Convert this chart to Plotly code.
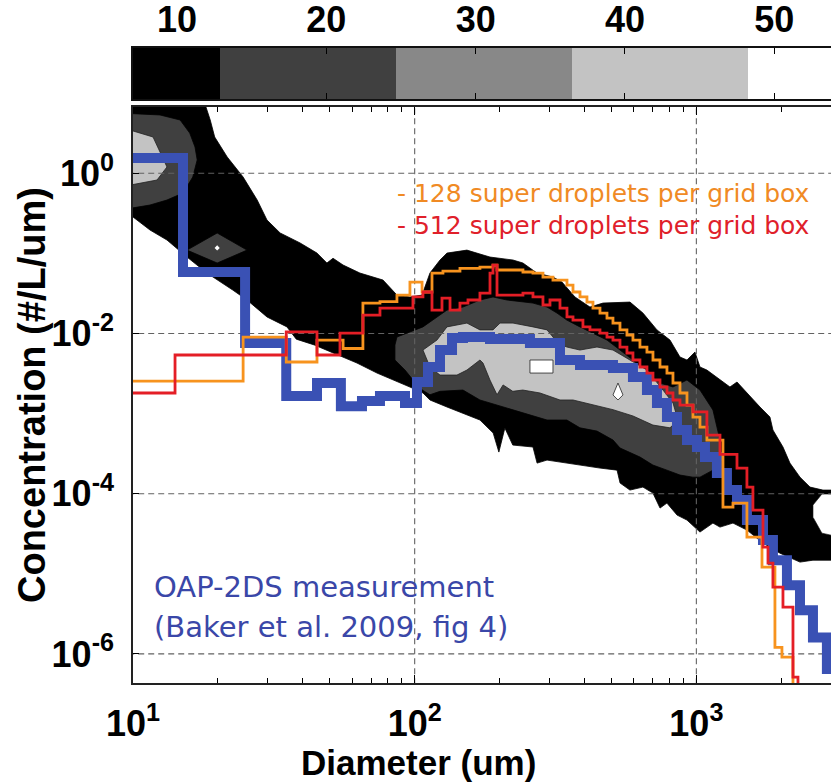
import plotly.graph_objects as go

# ---------------- data ----------------
# colour-bar bands (contour levels) and their tick labels
cbar_edges = [1.09, 12.88, 24.67, 36.46, 48.25, 60.04]
cbar_codes = [0, 1, 2, 3, 4]
cbar_ticks = [10, 20, 30, 40, 50]
band_colors = ["#000000", "#404040", "#888888", "#c3c3c3", "#ffffff"]

# OAP-2DS measurement (bin left edge in um, concentration #/L/um)
blue_d = [9, 15.05, 25.0, 35.0, 45.0, 54.7, 65.0, 75.3, 92.4, 101.9, 111.5, 123.0, 135.7,
          148.4, 185.1, 256.6, 328.0, 386.3, 505.8, 595.5, 667.7, 724.7, 786.4, 853.5,
          926.2, 1005, 1073, 1183, 1284, 1394, 1512, 1724, 1870, 2097, 2333, 2594, 2907, 3300]
blue_c = [1.55, 0.0586, 0.0076, 0.00166, 0.00241, 0.00124, 0.00144, 0.00166, 0.00136,
          0.00248, 0.00382, 0.00622, 0.00879, 0.00904, 0.00853, 0.0076, 0.00467, 0.00404,
          0.00371, 0.00286, 0.00197, 0.00136, 0.000906, 0.000624, 0.000468, 0.000383,
          0.000287, 0.000181, 0.000111, 8.34e-5, 4.69e-5, 2.64e-5, 1.48e-5, 7.22e-6,
          3.52e-6, 1.6e-6, 6.5e-7, 6.5e-7]

# 128 super droplets per grid box
orange_d = [9, 24.6, 35.0, 45.0, 55.7, 65.5, 75.3, 86.5, 96.2, 106.2, 115.2, 126.0, 144.8,
            170.5, 189.7, 196.0, 242.3, 263.0, 285.4, 309.7, 347.3, 364.8, 386.3, 408.9,
            429.5, 454.8, 481.6, 505.8, 535.6, 567.0, 595.5, 630.6, 667.7, 701.4, 742.8,
            786.4, 826.0, 874.7, 926.2, 972.5, 1030, 1090, 1243, 1349, 1512, 1710, 1901,
            2013, 2203, 2400]
orange_c = [0.00255, 0.00904, 0.00441, 0.00829, 0.0065, 0.024, 0.025, 0.0302, 0.0439, 0.033,
            0.0569, 0.060, 0.065, 0.0676, 0.0716, 0.0621, 0.0586, 0.0569, 0.0507, 0.0465,
            0.0403, 0.033, 0.0286, 0.0247, 0.0208, 0.018, 0.0156, 0.0135, 0.0111, 0.00958,
            0.00829, 0.00678, 0.00587, 0.00467, 0.00382, 0.00321, 0.00241, 0.00181, 0.00128,
            0.000906, 0.00068, 0.000468, 6.81e-5, 7.64e-5, 2.87e-5, 1.21e-5, 1.21e-6,
            9.1e-7, 1e-9, 1e-9]

# 512 super droplets per grid box
red_d = [9, 14.1, 35.0, 45.0, 54.3, 65.5, 75.3, 98.6, 107.0, 115.2, 125.0, 133.5, 144.8,
         154.6, 170.5, 185.1, 189.7, 196.0, 242.3, 263.0, 285.4, 302.2, 328.0, 347.3, 364.8,
         395.7, 419.1, 454.8, 481.6, 505.8, 535.6, 567.0, 595.5, 630.6, 667.7, 701.4, 742.8,
         786.4, 826.0, 874.7, 972.5, 1090, 1213, 1394, 1512, 1588, 1724, 1796, 1870, 2030,
         2203, 2295, 2500]
red_c = [0.00181, 0.00539, 0.0105, 0.00539, 0.0101, 0.017, 0.0208, 0.0286, 0.033, 0.0196,
         0.0277, 0.0196, 0.024, 0.0262, 0.032, 0.0569, 0.0716, 0.0302, 0.032, 0.0286, 0.0227,
         0.0262, 0.0208, 0.0161, 0.0147, 0.0121, 0.0111, 0.0101, 0.00904, 0.00829, 0.00678,
         0.00571, 0.00467, 0.00382, 0.00321, 0.00263, 0.00215, 0.00181, 0.00148, 0.00128,
         0.00105, 0.00054, 0.00031, 0.000209, 0.000121, 6.25e-5, 2.15e-5, 1.36e-5, 6.82e-6,
         3.84e-6, 5.12e-7, 1e-9, 1e-9]

# contour regions of the simulated frequency field: (diameter um, concentration)
level1_outline = [
    (9, 10), (17.5, 10), (18.8, 4.63), (19.5, 2.84), (21.6, 1.60), (24.6, 0.899), (27.6, 0.464),
    (29.9, 0.261), (33.3, 0.180), (39.2, 0.135), (45.0, 0.101), (48.8, 0.0759), (51.3, 0.087),
    (55.7, 0.0716), (63.9, 0.0569), (77.2, 0.0465), (86.5, 0.0302), (96.2, 0.0286),
    (106.2, 0.0302), (113.3, 0.0569), (123.0, 0.0827), (130.2, 0.101), (153.3, 0.110),
    (185.1, 0.0901), (223.4, 0.0827), (242.3, 0.0759), (271.7, 0.0569), (309.7, 0.0507),
    (333.4, 0.0439), (370.7, 0.0286), (419.1, 0.0214), (466.1, 0.024), (581.2, 0.0247),
    (646.3, 0.018), (724.7, 0.0111), (806.0, 0.00829), (874.7, 0.00509), (926.2, 0.00467),
    (988.5, 0.00587), (1030, 0.00382), (1090, 0.0035), (1183, 0.00286), (1316, 0.00215),
    (1394, 0.00248), (1512, 0.00181), (1682, 0.00121), (1825, 0.000906), (1870, 0.000624),
    (2030, 0.000383), (2149, 0.000241), (2333, 0.000161), (2532, 0.000121), (2814, 0.000111),
    (3236, 0.000111), (3236, 1.48e-5), (2594, 1.48e-5), (2333, 1.40e-5), (1981, 1.81e-5),
    (1825, 2.15e-5), (1724, 2.42e-5), (1512, 3.52e-5), (1349, 4.30e-5), (1213, 3.83e-5),
    (1145, 4.30e-5), (1030, 3.32e-5), (926, 4.69e-5), (854, 5.41e-5), (786, 7.64e-5),
    (743, 6.62e-5), (701, 0.000102), (646, 0.000121), (581, 0.000111), (536, 0.000136),
    (523, 0.000197), (455, 0.000209), (386, 0.000228), (336, 0.000241), (295, 0.000263),
    (272, 0.000241), (263, 0.000383), (223, 0.000405), (209, 0.000661), (199, 0.000331),
    (190, 0.000572), (170.5, 0.000832), (148.4, 0.00102), (130.2, 0.00121), (113.3, 0.00148),
    (107, 0.00181), (101.9, 0.00197), (88.7, 0.00241), (73.5, 0.00321), (62.4, 0.00428),
    (51.3, 0.00571), (44.0, 0.0072), (38.0, 0.0085), (35.2, 0.0121), (29.9, 0.0161),
    (25.4, 0.0262), (22.6, 0.0349), (18.3, 0.0569), (15.55, 0.0901), (13.2, 0.147),
    (11.49, 0.196), (10, 0.285), (9, 0.3)]

level2_hump = [
    (85.1, 0.00718), (86.5, 0.00904), (107, 0.0121), (120, 0.0161), (130.2, 0.0196),
    (148.4, 0.0214), (170.5, 0.0262), (189.7, 0.0286), (212.7, 0.0262), (263, 0.024),
    (295, 0.0214), (320, 0.018), (347, 0.0147), (386, 0.0121), (429.5, 0.0101), (481.6, 0.00829),
    (535.6, 0.00622), (595.5, 0.00467), (667.7, 0.00321), (742.8, 0.00241), (826, 0.00215),
    (926, 0.00263), (1030, 0.00197), (1145, 0.00111), (1213, 0.000468), (1243, 0.000263),
    (1145, 0.000197), (1030, 0.000161), (972, 0.000161), (875, 0.000171), (786, 0.000197),
    (701, 0.000228), (631, 0.000287), (536, 0.000372), (506, 0.000468), (444, 0.000605),
    (386, 0.000665), (347, 0.000832), (295, 0.000832), (263, 0.000935), (223, 0.00112),
    (196, 0.00128), (170.5, 0.00148), (148.4, 0.00197), (123, 0.0019), (113.3, 0.00172),
    (104.4, 0.00206), (92.4, 0.0035), (85.1, 0.00467)]
level2_topleft = [(9, 5.66), (12.47, 5.35), (14.7, 4.63), (15.9, 3.18), (16.6, 2.13), (16.9, 1.47),
                  (16.3, 0.899), (15.05, 0.567), (13.2, 0.464), (11.49, 0.402), (9, 0.348)]
level2_diamond = [(15.55, 0.110), (19.9, 0.180), (25.4, 0.110), (19.9, 0.0759)]

level4_hump = [
    (107, 0.00622), (120, 0.00829), (130.2, 0.0121), (153.3, 0.0135), (170.5, 0.0111),
    (189.7, 0.0111), (200.9, 0.0135), (223.4, 0.0135), (263, 0.0121), (295, 0.0111),
    (309.7, 0.00904), (320, 0.0076), (347, 0.00678), (386, 0.00622), (443.8, 0.00678),
    (505.8, 0.00622), (581, 0.00467), (668, 0.0035), (761, 0.00197), (826, 0.00136),
    (860, 0.000832), (806, 0.000665), (701, 0.00072), (595.5, 0.000935), (506, 0.00112),
    (429.5, 0.00128), (365, 0.00148), (328, 0.00148), (278.5, 0.00181), (242, 0.00197),
    (223, 0.0019), (206, 0.00228), (196, 0.00172), (185, 0.00263), (174.8, 0.00428),
    (170.5, 0.00467), (153.3, 0.0035), (141.3, 0.00303), (123, 0.00303), (113.3, 0.00382)]
level4_topleft = [(9, 3.78), (11.78, 2.84), (13.2, 1.2), (12.17, 0.825), (9, 0.675)]

level5_spot = [(256.6, 0.00467), (309.7, 0.00467), (309.7, 0.00321), (256.6, 0.00321)]
level5_drop = [(526.9, 0.00241), (548.9, 0.00171), (526.9, 0.00148), (505.8, 0.00171)]
empty_notch = [(2791, 9.91e-5), (2594, 7.21e-5), (2594, 5.1e-5), (2791, 3.22e-5),
               (3236, 2.87e-5), (3236, 9.91e-5)]
diamond_dot = (19.9, 0.117)

# axis ticks
x_tickvals = [10, 100, 1000]
x_ticktext = ["10<sup>1</sup>", "10<sup>2</sup>", "10<sup>3</sup>"]
x_minor = [20, 30, 40, 50, 60, 70, 80, 90, 200, 300, 400, 500, 600, 700, 800, 900, 2000, 3000]
y_tickvals = [1, 1e-2, 1e-4, 1e-6]
y_ticktext = ["10<sup>0</sup>", "10<sup>-2</sup>", "10<sup>-4</sup>", "10<sup>-6</sup>"]

# ---------------- figure ----------------
SANS = "Liberation Sans, Arial, sans-serif"
BLACK, DARK, LIGHT = band_colors[0], band_colors[1], band_colors[3]

fig = go.Figure()

# colour bar as a one-row heatmap
n = len(band_colors)
cscale = []
for i, c in enumerate(band_colors):
    cscale.append([i / n, c])
    cscale.append([(i + 1) / n, c])
fig.add_trace(go.Heatmap(x=cbar_edges, y=[0, 1], z=[cbar_codes], colorscale=cscale,
                         zmin=-0.5, zmax=n - 0.5, showscale=False, hoverinfo="skip",
                         xaxis="x2", yaxis="y2"))


def add_poly(pts, fillcolor, linecolor="#000000", lw=0.8):
    xs = [p[0] for p in pts] + [pts[0][0]]
    ys = [p[1] for p in pts] + [pts[0][1]]
    fig.add_trace(go.Scatter(x=xs, y=ys, mode="lines", fill="toself", fillcolor=fillcolor,
                             line=dict(color=linecolor, width=lw), hoverinfo="skip",
                             showlegend=False))


add_poly(level1_outline, BLACK)
add_poly(empty_notch, "#ffffff", "#000000", 0.6)
add_poly(level2_hump, DARK)
add_poly(level2_topleft, DARK)
add_poly(level2_diamond, DARK)
add_poly(level4_hump, LIGHT, "#222222", 0.8)
add_poly(level4_topleft, LIGHT, "#222222", 0.8)
add_poly(level5_spot, "#ffffff", "#222222", 0.8)
add_poly(level5_drop, "#ffffff", "#222222", 0.8)
fig.add_trace(go.Scatter(x=[diamond_dot[0]], y=[diamond_dot[1]], mode="markers",
                         marker=dict(color="#ffffff", size=4, symbol="diamond"),
                         hoverinfo="skip", showlegend=False))

# dashed grid lines drawn above the filled contours
grid_style = dict(color="#626262", width=1.1, dash="6px,4px")
for gx in x_tickvals[1:]:
    fig.add_trace(go.Scatter(x=[gx, gx], y=[1e-9, 1e3], mode="lines", line=grid_style,
                             hoverinfo="skip", showlegend=False))
for gy in y_tickvals:
    fig.add_trace(go.Scatter(x=[5, 5000], y=[gy, gy], mode="lines", line=grid_style,
                             hoverinfo="skip", showlegend=False))

# size distributions (step lines)
fig.add_trace(go.Scatter(x=blue_d, y=blue_c, mode="lines", line_shape="hv",
                         line=dict(color="#3a51b4", width=10), showlegend=False))
fig.add_trace(go.Scatter(x=orange_d, y=orange_c, mode="lines", line_shape="hv",
                         line=dict(color="#f7931e", width=2.8), showlegend=False))
fig.add_trace(go.Scatter(x=red_d, y=red_c, mode="lines", line_shape="hv",
                         line=dict(color="#e41e26", width=2.8), showlegend=False))

H_PLOT_TOP, H_PLOT_BOT = 48, 683
def py(p):
    return (H_PLOT_BOT - p) / (H_PLOT_BOT - H_PLOT_TOP)
def px(p):
    return (p - 133) / (831 - 133)

tickfont = dict(family=SANS, size=36, color="#000000", weight="bold")

fig.update_layout(
    width=831, height=784,
    margin=dict(l=133, r=0, t=48, b=101, pad=0, autoexpand=False),
    paper_bgcolor="white", plot_bgcolor="white",
    showlegend=False,
    xaxis=dict(type="log", range=[1, 3.478], domain=[0, 1], anchor="y", automargin=False,
               tickmode="array", tickvals=x_tickvals, ticktext=x_ticktext,
               ticks="inside", ticklen=8, tickwidth=1, tickcolor="#000000",
               minor=dict(tickmode="array", tickvals=x_minor, ticks="inside", ticklen=5,
                          tickwidth=1, tickcolor="#000000", showgrid=False),
               showgrid=False, zeroline=False, showline=True, linecolor="#222222",
               linewidth=1.5, mirror="allticks", tickfont=tickfont, ticklabelstandoff=8),
    yaxis=dict(type="log", range=[-6.363, 0.828], domain=[0, py(107)], anchor="x",
               automargin=False,
               tickmode="array", tickvals=y_tickvals, ticktext=y_ticktext,
               ticks="inside", ticklen=6, tickwidth=1, tickcolor="#000000",
               showgrid=False, zeroline=False, showline=True, linecolor="#222222",
               linewidth=1.5, mirror=False, tickfont=tickfont, ticklabelstandoff=10),
    xaxis2=dict(domain=[0, 1], anchor="y2", range=[7.05, 53.8], side="top", automargin=False,
                tickmode="array", tickvals=cbar_ticks, ticks="inside", ticklen=6,
                tickwidth=1, tickcolor="#000000", showline=True, linecolor="#111111",
                linewidth=1.5, mirror="allticks", showgrid=False, zeroline=False,
                tickfont=tickfont),
    yaxis2=dict(domain=[py(99), 1.0], anchor="x2", range=[0, 1], showticklabels=False,
                automargin=False,
                ticks="", showline=True, linecolor="#111111", linewidth=1.5,
                showgrid=False, zeroline=False),
    annotations=[
        dict(text="- 128 super droplets per grid box", x=px(395), y=py(193), xref="paper",
             yref="paper", xanchor="left", yanchor="middle", showarrow=False,
             font=dict(family="DejaVu Sans", size=25, color="#f08a24")),
        dict(text="- 512 super droplets per grid box", x=px(395), y=py(226), xref="paper",
             yref="paper", xanchor="left", yanchor="middle", showarrow=False,
             font=dict(family="DejaVu Sans", size=25, color="#e0202a")),
        dict(text="OAP-2DS measurement", x=px(152), y=py(587), xref="paper", yref="paper",
             xanchor="left", yanchor="middle", showarrow=False,
             font=dict(family="DejaVu Sans", size=29, color="#3a47a8")),
        dict(text="(Baker et al. 2009, fig 4)", x=px(152), y=py(627), xref="paper",
             yref="paper", xanchor="left", yanchor="middle", showarrow=False,
             font=dict(family="DejaVu Sans", size=29, color="#3a47a8")),
        dict(text="Diameter (um)", x=px(418), y=py(762), xref="paper", yref="paper",
             xanchor="center", yanchor="middle", showarrow=False,
             font=dict(family=SANS, size=35, color="#000000", weight="bold")),
        dict(text="Concentration (#/L/um)", x=px(32), y=py(395), xref="paper", yref="paper",
             xanchor="center", yanchor="middle", textangle=-90, showarrow=False,
             font=dict(family=SANS, size=38, color="#000000", weight="bold")),
    ],
)

fig.write_html("out.html", config={"displayModeBar": False},
               post_script="document.body.style.margin='0px';document.body.style.overflow='hidden';")
